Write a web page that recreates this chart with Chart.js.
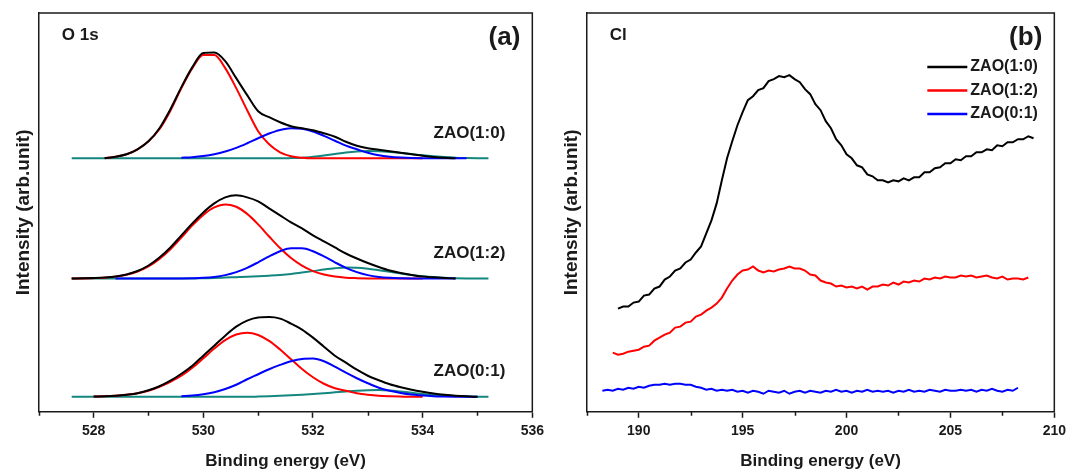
<!DOCTYPE html>
<html>
<head>
<meta charset="utf-8">
<script src="https://cdn.jsdelivr.net/npm/chart.js@4.4.1/dist/chart.umd.min.js"></script>
<style>
  html, body { margin: 0; padding: 0; background: #fff; }
  #wrap { position: relative; width: 1071px; height: 472px; }
  #o1sChart { position: absolute; left: 0; top: 0; }
  #clChart { position: absolute; left: 545px; top: 0; }
</style>
</head>
<body>
<div id="wrap">
  <canvas id="o1sChart" width="549" height="472"></canvas>
  <canvas id="clChart" width="526" height="472"></canvas>
</div>
<script>
  var _ = null;

  // ---- panel (a): O 1s fits, energies 527.6 .. 535.2 eV, 0.2 eV apart ----
  var o1sStart = 527.6;
  var o1sStep = 0.2;
  var sampleNames = ["ZAO(1:0)", "ZAO(1:2)", "ZAO(0:1)"];
  var sampleOffsets = [253, 133, 15];

  var envelope10 = [_,_,_,0,1.5,4,9,17,30,49,71,91,105,105.5,97,80,63,47,41,36,32,30,28,25,21.5,16.5,12.5,10,8.5,7,5.5,4,2.5,1.3,0.5,0,_,_,_];
  var peakLow10  = [_,_,_,0.3,1.5,4,9,17,29,47.5,70,90,103,103,90,70,48,27,14,6,2,0.5,0,0,0,0,0,0,0,0,0,0,0,_,_,_,_,_,_];
  var peakMid10  = [_,_,_,_,_,_,_,_,_,_,0.5,1.1,2.2,4,6.7,10.4,15,20,24.7,28.3,30,29.4,26.7,22.4,17.5,12.6,9,5.5,3,1.6,0.8,0.3,0.1,0,0,0,0,_,_];
  var peakHigh10 = [0,0,0,0,0,0,0,0,0,0,0,0,0,0,0,0,0,0,0,0,0.2,0.5,1.5,2.8,4.3,5.8,6.8,7.2,7.0,6.3,5.3,4.2,3.0,2.0,1.2,0.6,0.3,0.1,0];

  var envelope12 = [0,0.2,0.5,1,2,4,7.5,13,21,31,43,55,66,75,81,83,81,77,70,63,56,50,43,37,31,25,20,15.5,11.5,8,5.5,3.5,2,1.2,0.5,0,_,_,_];
  var peakLow12  = [0,0.1,0.4,0.9,1.9,3.8,7,12.1,19.6,29.3,41,53,63.5,71,74,71.6,64.5,54,42,30.4,20.4,12.8,7.4,4,2,0.9,0.4,0.1,0,0,0,0,0,_,_,_,_,_,_];
  var peakMid12  = [_,_,_,_,0,0,0,0,0,0,0.1,0.3,0.7,1.6,3.4,6.4,10.7,16.2,22.1,27.2,30.2,30.2,27.2,22.1,16.2,10.7,6.4,3.4,1.6,0.7,0.3,0.1,0,0,0,0,_,_,_];
  var peakHigh12 = [0,0,0,0,0,0,0,0,0,0,0,0,0.3,0.6,1.0,1.4,1.8,2.3,2.9,3.6,4.6,6,7.4,9,10.3,11,10.8,9.8,8.3,6.7,5.0,3.6,2.4,1.5,0.8,0.4,0.1,0,0];

  var envelope01 = [_,_,0.3,0.5,1,2,3.5,6.5,10.5,16,23,31,41,51,61,70,76,79,79.5,78,73,67,59,50,41,34,27,21,16.5,12.5,9.5,7,5,3.3,2,1,0.4,0,_];
  var peakLow01  = [_,_,0.2,0.4,1,2,3.5,6,10,15,21,29,38.4,48.1,56.5,62.1,64,61.7,55.8,47.2,37.4,27.7,19.5,13,8.5,6,3.5,2,1,0.5,0.2,0,0,_,_,_,_,_,_];
  var peakMid01  = [_,_,_,_,_,_,_,_,_,_,0.5,1.2,2.5,4.6,7.8,12,17.5,22.5,27.5,31.8,35.5,37.8,38.2,35.5,30,24,18.5,13.5,9,6,3.8,2.2,1.2,0.6,0.3,0.1,0,0,_];
  var peakHigh01 = [0,0,0,0,0,0,0,0,0,0,0,0,0,0,0,0,0,0.2,0.5,0.9,1.4,2.0,2.7,3.5,4.4,5.3,6.1,6.6,6.7,6.2,5.2,4.0,2.8,1.9,1.2,0.7,0.3,0.1,0];

  var o1sMajor = [528, 530, 532, 534, 536];
  var o1sMinor = [527, 529, 531, 533, 535];

  // ---- panel (b): Cl 2p survey, 0.25 eV apart ----
  var clStep = 0.25;
  var clStart10 = 189.0;
  var clStart12 = 188.75;
  var clStart01 = 188.25;
  var cl10 = [103,105,105,109,110,116,117,123,125,132,135,141,143,149,152,159,165,178,191,208,
              231,253,270,286,299,311,315,321,323,330,332,335,334,336,332,329,322,317,307,301,
              290,283,272,266,257,253,246,244,237,235,231,231,229,231,230,233,231,234,234,239,
              239,243,244,248,248,252,251,255,255,259,259,262,261,266,265,269,269,272,272,275,273];
  var cl12 = [59,57,58,60,61,62,65,66,71,74,77,79,84,85,89,90,95,97,101,104,
              108,114,123,131,137,141,142,145,141,139,141,140,142,143,145,143,143,141,137,136,
              131,129,128,125,126,124,125,123,125,122,125,125,127,126,129,127,130,129,131,130,
              133,132,134,133,135,134,134,136,135,136,134,135,136,134,133,135,132,133,133,132,134];
  var cl01 = [21,22,21,23,22,24,23,25,24,26,27,27,28,27,28,28,27,27,25,24,
              22,23,21,22,21,22,20,21,19,21,20,18,21,20,19,21,18,20,21,19,
              21,20,19,21,20,22,20,21,19,21,20,22,20,21,20,21,19,21,20,22,
              20,21,20,22,21,20,22,21,21,22,21,22,20,22,21,23,21,20,22,21,24];

  var clMajor = [190, 195, 200, 205, 210];
  var clMinor = [187.5, 192.5, 197.5, 202.5, 207.5];

  var FONT = "'Liberation Sans', Arial, Helvetica, sans-serif";
  var INK = "#1a1a1a";
  var RED = "#ff0000";
  var BLUE = "#0000ff";
  var TEAL = "#13877f";

  function series(start, step, values, offset) {
    return values.map(function (v, i) {
      return { x: start + i * step, y: v === null ? null : v + offset };
    });
  }

  var o1sSets = [
    [envelope10, peakMid10, peakLow10, peakHigh10],
    [envelope12, peakMid12, peakLow12, peakHigh12],
    [envelope01, peakMid01, peakLow01, peakHigh01]
  ];
  var o1sColors = ["#000000", BLUE, RED, TEAL];

  var datasetsA = [];
  o1sSets.forEach(function (set, k) {
    set.forEach(function (arr, j) {
      datasetsA.push({
        label: sampleNames[k] + " " + j,
        data: series(o1sStart, o1sStep, arr, sampleOffsets[k]),
        borderColor: o1sColors[j],
        borderWidth: 2,
        pointRadius: 0,
        fill: false,
        spanGaps: false,
        cubicInterpolationMode: "monotone"
      });
    });
  });

  var datasetsB = [
    { label: sampleNames[0], data: series(clStart10, clStep, cl10, 0), borderColor: "#000000" },
    { label: sampleNames[1], data: series(clStart12, clStep, cl12, 0), borderColor: RED },
    { label: sampleNames[2], data: series(clStart01, clStep, cl01, 0), borderColor: BLUE }
  ].map(function (d) {
    d.borderWidth = 2;
    d.pointRadius = 0;
    d.fill = false;
    d.tension = 0;
    return d;
  });

  // frame on top/right, minor ticks, in-plot texts
  var framePlugin = {
    id: "frame",
    afterDraw: function (chart, args, opts) {
      var a = chart.chartArea;
      var ctx = chart.ctx;
      var xs = chart.scales.x;
      var ys = chart.scales.y;
      ctx.save();
      ctx.strokeStyle = INK;
      ctx.lineWidth = 1.5;
      ctx.beginPath();
      ctx.moveTo(a.left, a.top);
      ctx.lineTo(a.right, a.top);
      ctx.lineTo(a.right, a.bottom);
      ctx.stroke();

      ctx.beginPath();
      (opts.minor || []).forEach(function (v) {
        var px = Math.round(xs.getPixelForValue(v)) + 0.5;
        ctx.moveTo(px, a.bottom);
        ctx.lineTo(px, a.bottom + 4);
      });
      ctx.stroke();

      ctx.fillStyle = INK;
      ctx.textBaseline = "middle";
      ctx.font = "bold 17px " + FONT;
      ctx.textAlign = "left";
      ctx.fillText(opts.element, a.left + 23, a.top + 22);
      ctx.font = "bold 26px " + FONT;
      ctx.textAlign = "right";
      ctx.fillText(opts.tag, a.right - 12, a.top + 25);

      if (opts.sideLabels) {
        ctx.font = "bold 17px " + FONT;
        ctx.textAlign = "right";
        sampleNames.forEach(function (name, k) {
          ctx.fillText(name, a.right - 27, ys.getPixelForValue(sampleOffsets[k] + 25));
        });
      }

      if (opts.legend) {
        chart.data.datasets.forEach(function (d, k) {
          var y = a.top + 54 + k * 23.5;
          ctx.strokeStyle = d.borderColor;
          ctx.lineWidth = 2.5;
          ctx.beginPath();
          ctx.moveTo(a.right - 127, y);
          ctx.lineTo(a.right - 87, y);
          ctx.stroke();
          ctx.font = "bold 16px " + FONT;
          ctx.textAlign = "left";
          ctx.fillStyle = INK;
          ctx.fillText(d.label, a.right - 84, y);
        });
      }
      ctx.restore();
    }
  };

  function axisX(min, max, major, titleText) {
    return {
      type: "linear",
      min: min,
      max: max,
      afterBuildTicks: function (scale) {
        scale.ticks = major.map(function (v) { return { value: v }; });
      },
      ticks: {
        autoSkip: false,
        maxRotation: 0,
        padding: 5,
        color: INK,
        font: { family: FONT, size: 14, weight: "bold" }
      },
      grid: { drawOnChartArea: false, tickLength: 6, tickColor: INK, tickWidth: 1.5 },
      border: { color: INK, width: 1.5 },
      title: {
        display: true,
        text: titleText,
        color: INK,
        font: { family: FONT, size: 17, weight: "bold" },
        padding: { top: 7, bottom: 0 }
      }
    };
  }

  function axisY() {
    return {
      min: 0,
      max: 398,
      ticks: { display: false },
      grid: { display: false, drawTicks: false },
      border: { color: INK, width: 1.5 },
      title: {
        display: true,
        text: "Intensity (arb.unit)",
        color: INK,
        font: { family: FONT, size: 19, weight: "bold" },
        padding: { top: 4, bottom: 4 }
      }
    };
  }

  new Chart(document.getElementById("o1sChart"), {
    type: "line",
    data: { datasets: datasetsA },
    options: {
      responsive: false,
      animation: false,
      devicePixelRatio: 1,
      layout: { padding: { left: 8, right: 13, top: 13, bottom: 0 } },
      scales: {
        x: axisX(527, 536, o1sMajor, "Binding energy (eV)"),
        y: axisY()
      },
      plugins: {
        legend: { display: false },
        tooltip: { enabled: false },
        frame: { minor: o1sMinor, element: "O 1s", tag: "(a)", sideLabels: true }
      }
    },
    plugins: [framePlugin]
  });

  new Chart(document.getElementById("clChart"), {
    type: "line",
    data: { datasets: datasetsB },
    options: {
      responsive: false,
      animation: false,
      devicePixelRatio: 1,
      layout: { padding: { left: 11, right: 16, top: 13, bottom: 0 } },
      scales: {
        x: axisX(187.5, 210, clMajor, "Binding energy (eV)"),
        y: axisY()
      },
      plugins: {
        legend: { display: false },
        tooltip: { enabled: false },
        frame: { minor: clMinor, element: "Cl", tag: "(b)", legend: true }
      }
    },
    plugins: [framePlugin]
  });
</script>
</body>
</html>
